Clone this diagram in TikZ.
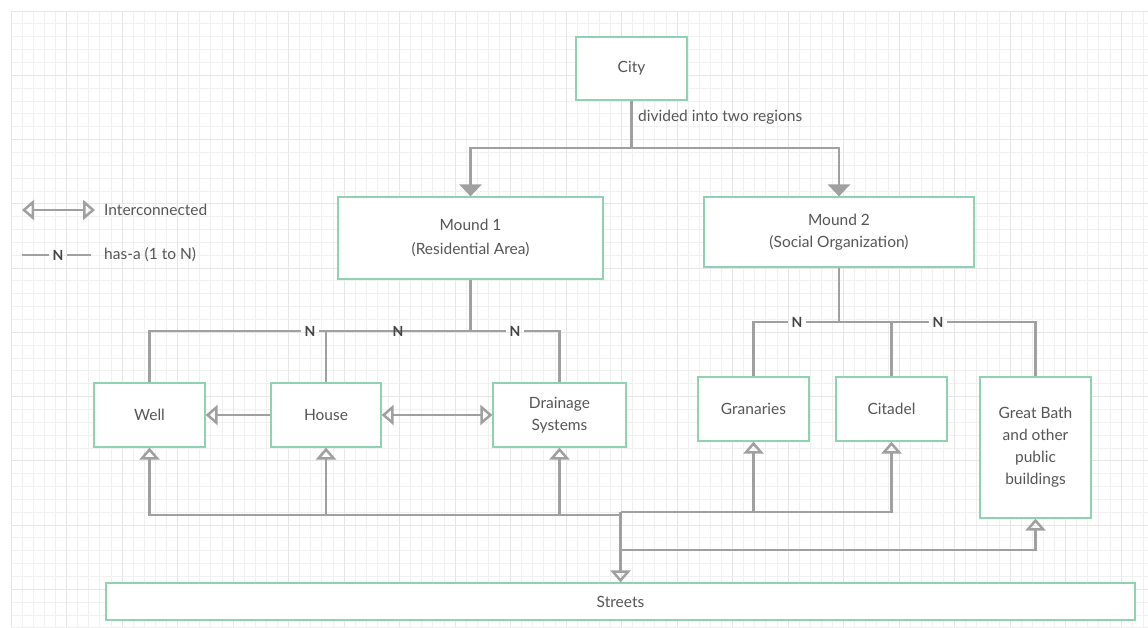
\documentclass[tikz,border=0pt]{standalone}
\usepackage{fontspec}
\setmainfont{Lato}
\usetikzlibrary{arrows.meta}
\definecolor{boxc}{HTML}{8ED2B2}
\definecolor{linec}{HTML}{A0A0A0}
\definecolor{txt}{HTML}{555555}
\definecolor{gridc}{HTML}{F0F0F0}
\definecolor{gridm}{HTML}{E6E6E6}
\begin{document}
\begin{tikzpicture}[x=1pt,y=-1pt,
  box/.style={draw=boxc, line width=1.2pt, fill=white, text=txt, font=\fontsize{15.5}{22}\selectfont, align=center, inner sep=0pt},
  conn/.style={draw=linec, line width=2.7pt},
  openhead/.style={-{Triangle[open, length=12pt, width=20pt, line width=2.5pt]}},
  bothopen/.style={{Triangle[open, length=12pt, width=20pt, line width=2.5pt]}-{Triangle[open, length=12pt, width=20pt, line width=2.5pt]}},
  fillhead/.style={-{Triangle[length=12pt, width=22pt]}},
  nlab/.style={text=txt!80!black, font=\fontsize{14}{16}\selectfont\bfseries, inner xsep=3.5pt, inner ysep=1pt},
  lbl/.style={text=txt, font=\fontsize{15.5}{18}\selectfont, inner sep=0pt}
]
\useasboundingbox (0,0) rectangle (1148,627);
\fill[white] (0,0) rectangle (1148,627);
% grid
\foreach \i in {0,...,102} {\draw[gridc, line width=0.8pt] ({11+\i*11.1},11) -- ({11+\i*11.1},627);}
\foreach \j in {0,...,48} {\draw[gridc, line width=0.8pt] (11,{11+\j*12.85}) -- (1148,{11+\j*12.85});}
\foreach \i in {0,5,...,100} {\draw[gridm, line width=0.8pt] ({11+\i*11.1},11) -- ({11+\i*11.1},627);}
\foreach \j in {0,5,...,45} {\draw[gridm, line width=0.8pt] (11,{11+\j*12.85}) -- (1148,{11+\j*12.85});}

% nodes
\node[box, minimum width=111pt, minimum height=63pt] (city) at (631.5,68.5) {City};
\node[box, minimum width=265pt, minimum height=82pt] (mound1) at (470.5,238) {Mound 1\\[2pt](Residential Area)};
\node[box, minimum width=270pt, minimum height=70pt] (mound2) at (839,232) {Mound 2\\(Social Organization)};
\node[box, minimum width=111pt, minimum height=64pt] (well) at (149.5,415) {Well};
\node[box, minimum width=110pt, minimum height=64pt] (house) at (326,415) {House};
\node[box, minimum width=133pt, minimum height=64pt] (drain) at (559.5,415) {Drainage\\Systems};
\node[box, minimum width=111pt, minimum height=64pt] (gran) at (753.5,409) {Granaries};
\node[box, minimum width=111pt, minimum height=64pt] (cit) at (891.5,409) {Citadel};
\node[box, minimum width=111pt, minimum height=141pt] (bath) at (1035.5,447.5) {Great Bath\\and other\\public\\buildings};
\node[box, minimum width=1029pt, minimum height=37pt] (streets) at (620.5,601.5) {Streets};

% city to mounds
\draw[conn] (city.south) -- (631.5,148) coordinate (split);
\draw[conn, fillhead] (split) -| (mound1.north);
\draw[conn, fillhead] (split) -| (mound2.north);
\node[lbl, anchor=west] (divlbl) at (638,117) {divided into two regions};

% legend
\coordinate (lga) at (22,210);
\coordinate (lgb) at (95,210);
\draw[conn, bothopen] (lga) -- (lgb);
\node[lbl, anchor=west] (lgt1) at (104,210) {Interconnected};
\coordinate (lgc) at (22,255);
\node[nlab] (lgn) at (58,255) {N};
\coordinate (lgd) at (91,255);
\draw[conn] (lgc) -- (lgn.west);
\draw[conn] (lgn.east) -- (lgd);
\node[lbl, anchor=west] (lgt2) at (104,255) {has-a (1 to N)};

% mound 1 has-a
\draw[conn] (mound1.south) -- (470.5,331) coordinate (m1j);
\node[nlab] (n1) at (310,331) {N};
\node[nlab] (n3) at (515,331) {N};
\draw[conn] (well.north) |- (n1.west);
\draw[conn] (n1.east) -- (n3.west);
\draw[conn] (n3.east) -| (drain.north);
\draw[conn] (house.north) -- (house.north |- m1j);
\node[nlab] (n2) at (398,331) {N};

% mound 2 has-a
\draw[conn] (mound2.south) -- (839,322) coordinate (m2j);
\node[nlab] (n4) at (797,322) {N};
\node[nlab] (n5) at (938,322) {N};
\draw[conn] (gran.north) |- (n4.west);
\draw[conn] (n4.east) -- (n5.west);
\draw[conn] (n5.east) -| (bath.north);
\draw[conn] (cit.north) -- (cit.north |- m2j);

% interconnections
\draw[conn, openhead] (house.west) -- (well.east);
\draw[conn, bothopen] (house.east) -- (drain.west);

% streets
\coordinate (bl) at (620.5,515);
\coordinate (br) at (620.5,512);
\coordinate (bb) at (620.5,550);
\draw[conn, openhead] (bl) -| (well.south);
\draw[conn, openhead] (house.south |- bl) -- (house.south);
\draw[conn, openhead] (drain.south |- bl) -- (drain.south);
\draw[conn, openhead] (br) -| (cit.south);
\draw[conn, openhead] (gran.south |- br) -- (gran.south);
\draw[conn, openhead] (bb) -| (bath.south);
\draw[conn, openhead] (br) -- (streets.north);
\end{tikzpicture}
\end{document}
